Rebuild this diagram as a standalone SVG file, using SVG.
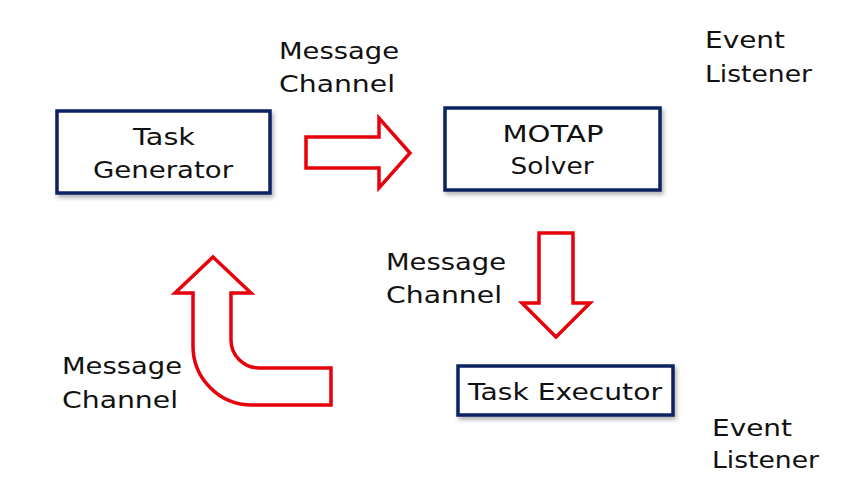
<svg xmlns="http://www.w3.org/2000/svg" width="842" height="485" viewBox="0 0 842 485">
<defs>
<filter id="sh" x="-10%" y="-10%" width="130%" height="140%">
<feDropShadow dx="2" dy="3" stdDeviation="2" flood-color="#000" flood-opacity="0.3"/>
</filter>
<style>
.box{fill:#fff;stroke:#0c2262;stroke-width:3.5;filter:url(#sh)}
.arr{fill:#fff;stroke:#e8000b;stroke-width:3.5;stroke-linejoin:miter}
text{font-family:"DejaVu Sans","Open Sans",sans-serif;font-size:23px;fill:#111}
.c{text-anchor:middle}
</style>
</defs>
<rect width="842" height="485" fill="#fff"/>
<g id="connectors">
<polygon class="arr" points="306,137 379,137 379,118 410,153 379,188 379,168 306,168"/>
<polygon class="arr" points="539,233 573,233 573,303 590,303 556,337 522,303 539,303"/>
<path class="arr" d="M213,257 L251,293 L231,293 L231,340 A28,28 0 0 0 259,368 L331,368 L331,405 L252,405 A59,59 0 0 1 193,346 L193,293 L175,293 Z"/>
</g>
<g id="labels">
<text x="279" y="59" textLength="120" lengthAdjust="spacingAndGlyphs">Message</text>
<text x="279" y="92" textLength="116" lengthAdjust="spacingAndGlyphs">Channel</text>
<text x="705" y="48" textLength="80" lengthAdjust="spacingAndGlyphs">Event</text>
<text x="705" y="82" textLength="107" lengthAdjust="spacingAndGlyphs">Listener</text>
<text x="386" y="270" textLength="120" lengthAdjust="spacingAndGlyphs">Message</text>
<text x="386" y="303" textLength="116" lengthAdjust="spacingAndGlyphs">Channel</text>
<text x="62" y="374" textLength="120" lengthAdjust="spacingAndGlyphs">Message</text>
<text x="62" y="408" textLength="116" lengthAdjust="spacingAndGlyphs">Channel</text>
<text x="712" y="436" textLength="80" lengthAdjust="spacingAndGlyphs">Event</text>
<text x="712" y="468" textLength="107" lengthAdjust="spacingAndGlyphs">Listener</text>
</g>
<g id="task-generator">
<rect class="box" x="57" y="111" width="213" height="82"/>
<text class="c" x="164" y="145" textLength="62" lengthAdjust="spacingAndGlyphs">Task</text>
<text class="c" x="163" y="178" textLength="140" lengthAdjust="spacingAndGlyphs">Generator</text>
</g>
<g id="motap-solver">
<rect class="box" x="445" y="108" width="215" height="82"/>
<text class="c" x="553" y="142" textLength="101" lengthAdjust="spacingAndGlyphs">MOTAP</text>
<text class="c" x="552" y="174" textLength="83" lengthAdjust="spacingAndGlyphs">Solver</text>
</g>
<g id="task-executor">
<rect class="box" x="458" y="366" width="215" height="49"/>
<text class="c" x="565" y="400" textLength="194" lengthAdjust="spacingAndGlyphs">Task Executor</text>
</g>
</svg>
